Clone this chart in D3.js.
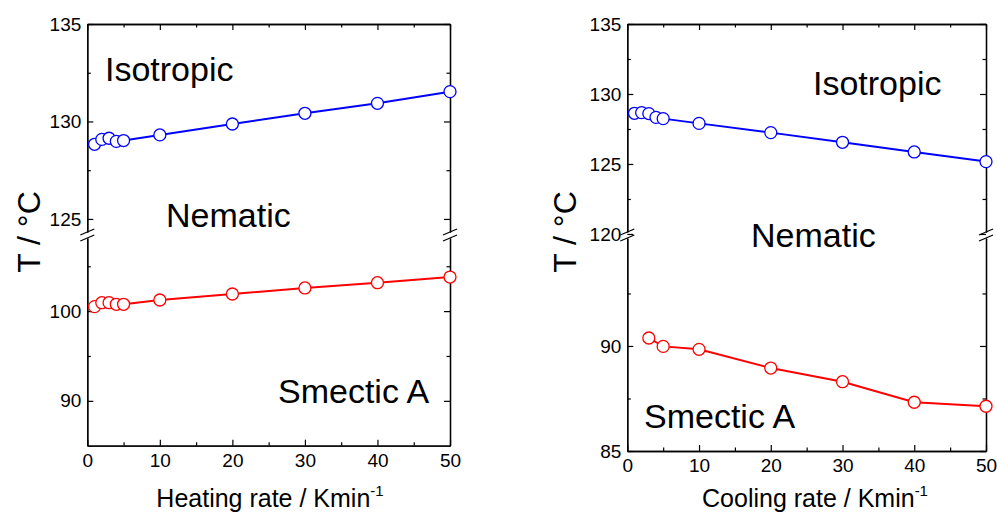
<!DOCTYPE html>
<html>
<head>
	<title>Transition temperatures vs rate</title>
	<style>
	body {
		margin: 0;
		background: #fff;
	}
	svg text {
		font-family: "Liberation Sans", Arial, sans-serif;
		fill: #000;
	}
	</style>
</head>
<body>
	<div id="vis"></div>

	<script src="https://d3js.org/d3.v7.min.js"></script>
	<script>
		// heating run (left panel)
		var heatRate = [1, 2, 3, 4, 5, 10, 20, 30, 40, 50];
		var heatIsoNem = [128.83, 129.08, 129.14, 128.98, 129.02, 129.31, 129.87, 130.42, 130.93, 131.53];
		var heatNemSmA = [100.5, 100.94, 100.94, 100.76, 100.76, 101.24, 101.91, 102.58, 103.17, 103.8];

		// cooling run (right panel)
		var coolRate = [1, 2, 3, 4, 5, 10, 20, 30, 40, 50];
		var coolIsoNem = [128.62, 128.67, 128.6, 128.33, 128.24, 127.9, 127.24, 126.55, 125.86, 125.17];
		var coolRateSmA = [3, 5, 10, 20, 30, 40, 50];
		var coolNemSmA = [90.38, 89.98, 89.84, 88.95, 88.3, 87.32, 87.13];

		var xTicks = [0, 10, 20, 30, 40, 50];
		var xMinor = [5, 15, 25, 35, 45];

		var svg = d3.select("#vis").append("svg")
			.attr("width", 997)
			.attr("height", 513);

		var font = '"Liberation Sans", Arial, sans-serif';

		var panels = [
			{
				left: 87.3, right: 450, top: 24, bottom: 445.7, brk: [232, 238],
				upper: [124.33, 135], lower: [85, 108.15],
				upTicks: [125, 130, 135], upMinor: [127.5, 132.5],
				lowTicks: [90, 100], lowMinor: [95, 105],
				rate: heatRate, iso: heatIsoNem, smaRate: heatRate, sma: heatNemSmA,
				xlabel: "Heating rate / Kmin", xlabelX: 270,
				ylabelX: 40,
				phases: [["Isotropic", 105, 81], ["Nematic", 166, 227], ["Smectic A", 278, 403]]
			},
			{
				left: 627.3, right: 986, top: 24, bottom: 451, brk: [232, 238],
				upper: [120.14, 135], lower: [85, 95.14],
				upTicks: [120, 125, 130, 135], upMinor: [122.5, 127.5, 132.5],
				lowTicks: [85, 90], lowMinor: [87.5, 92.5],
				rate: coolRate, iso: coolIsoNem, smaRate: coolRateSmA, sma: coolNemSmA,
				xlabel: "Cooling rate / Kmin", xlabelX: 815,
				ylabelX: 576,
				phases: [["Isotropic", 813, 95], ["Nematic", 751, 247], ["Smectic A", 644, 428]]
			}
		];

		function styleAxis(g, size) {
			g.attr("font-size", null).attr("font-family", null);
			g.selectAll("path.domain").attr("stroke", "#000").attr("stroke-width", 1.3);
			g.selectAll(".tick line").attr("stroke", "#000").attr("stroke-width", 1.2);
			g.selectAll("text").style("font-size", size + "px").style("font-family", font);
		}

		panels.forEach(function(p) {
			var x = d3.scaleLinear().domain([0, 50]).range([p.left, p.right]);
			var yUp = d3.scaleLinear().domain(p.upper).range([p.brk[0], p.top]);
			var yLow = d3.scaleLinear().domain(p.lower).range([p.bottom, p.brk[1]]);

			// left axis, upper + lower segments
			[[yUp, p.upTicks, p.upMinor], [yLow, p.lowTicks, p.lowMinor]].forEach(function(s) {
				svg.append("g")
					.attr("transform", "translate(" + p.left + ",0)")
					.call(d3.axisLeft(s[0]).tickValues(s[1]).tickSize(-6).tickSizeOuter(0).tickPadding(6))
					.call(styleAxis, 19);
				svg.append("g")
					.attr("transform", "translate(" + p.left + ",0)")
					.call(d3.axisLeft(s[0]).tickValues(s[2]).tickSize(-3.5).tickSizeOuter(0).tickFormat(""))
					.call(styleAxis, 19);
				// right mirror
				svg.append("g")
					.attr("transform", "translate(" + p.right + ",0)")
					.call(d3.axisRight(s[0]).tickValues(s[1]).tickSize(-6).tickSizeOuter(0).tickFormat(""))
					.call(styleAxis, 19);
				svg.append("g")
					.attr("transform", "translate(" + p.right + ",0)")
					.call(d3.axisRight(s[0]).tickValues(s[2]).tickSize(-3.5).tickSizeOuter(0).tickFormat(""))
					.call(styleAxis, 19);
			});

			// bottom + top axes
			svg.append("g")
				.attr("transform", "translate(0," + p.bottom + ")")
				.call(d3.axisBottom(x).tickValues(xTicks).tickSize(-6).tickSizeOuter(0).tickPadding(8))
				.call(styleAxis, 19);
			svg.append("g")
				.attr("transform", "translate(0," + p.bottom + ")")
				.call(d3.axisBottom(x).tickValues(xMinor).tickSize(-3.5).tickSizeOuter(0).tickFormat(""))
				.call(styleAxis, 19);
			svg.append("g")
				.attr("transform", "translate(0," + p.top + ")")
				.call(d3.axisTop(x).tickValues(xTicks).tickSize(-6).tickSizeOuter(0).tickFormat(""))
				.call(styleAxis, 19);
			svg.append("g")
				.attr("transform", "translate(0," + p.top + ")")
				.call(d3.axisTop(x).tickValues(xMinor).tickSize(-3.5).tickSizeOuter(0).tickFormat(""))
				.call(styleAxis, 19);

			// break marks
			[p.left, p.right].forEach(function(ax) {
				p.brk.forEach(function(by) {
					svg.append("line")
						.attr("x1", ax - 7).attr("y1", by + 3)
						.attr("x2", ax + 7).attr("y2", by - 3)
						.attr("stroke", "#000").attr("stroke-width", 1.2);
				});
			});

			// series
			var series = [
				{ xs: p.rate, ys: p.iso, y: yUp, color: "#0000ff" },
				{ xs: p.smaRate, ys: p.sma, y: yLow, color: "#ff0000" }
			];
			series.forEach(function(s) {
				var pts = s.xs.map(function(v, i) { return [v, s.ys[i]]; });
				svg.append("path")
					.datum(pts)
					.attr("fill", "none")
					.attr("stroke", s.color)
					.attr("stroke-width", 2)
					.attr("d", d3.line()
						.x(function(d) { return x(d[0]); })
						.y(function(d) { return s.y(d[1]); }));
				svg.selectAll(null)
					.data(pts)
					.enter().append("circle")
					.attr("cx", function(d) { return x(d[0]); })
					.attr("cy", function(d) { return s.y(d[1]); })
					.attr("r", 6)
					.attr("fill", "#fff")
					.attr("stroke", s.color)
					.attr("stroke-width", 1.3);
			});

			// phase labels
			p.phases.forEach(function(ph) {
				svg.append("text")
					.attr("x", ph[1]).attr("y", ph[2])
					.style("font-size", "34px")
					.text(ph[0]);
			});

			// axis titles
			var xl = svg.append("text")
				.attr("x", p.xlabelX).attr("y", 507)
				.attr("text-anchor", "middle")
				.style("font-size", "25px")
				.text(p.xlabel);
			xl.append("tspan")
				.attr("dy", -11)
				.style("font-size", "15px")
				.text("-1");

			svg.append("text")
				.attr("transform", "translate(" + p.ylabelX + ",232) rotate(-90)")
				.attr("text-anchor", "middle")
				.style("font-size", "32px")
				.text("T / \u00b0C");
		});
	</script>
</body>
</html>
